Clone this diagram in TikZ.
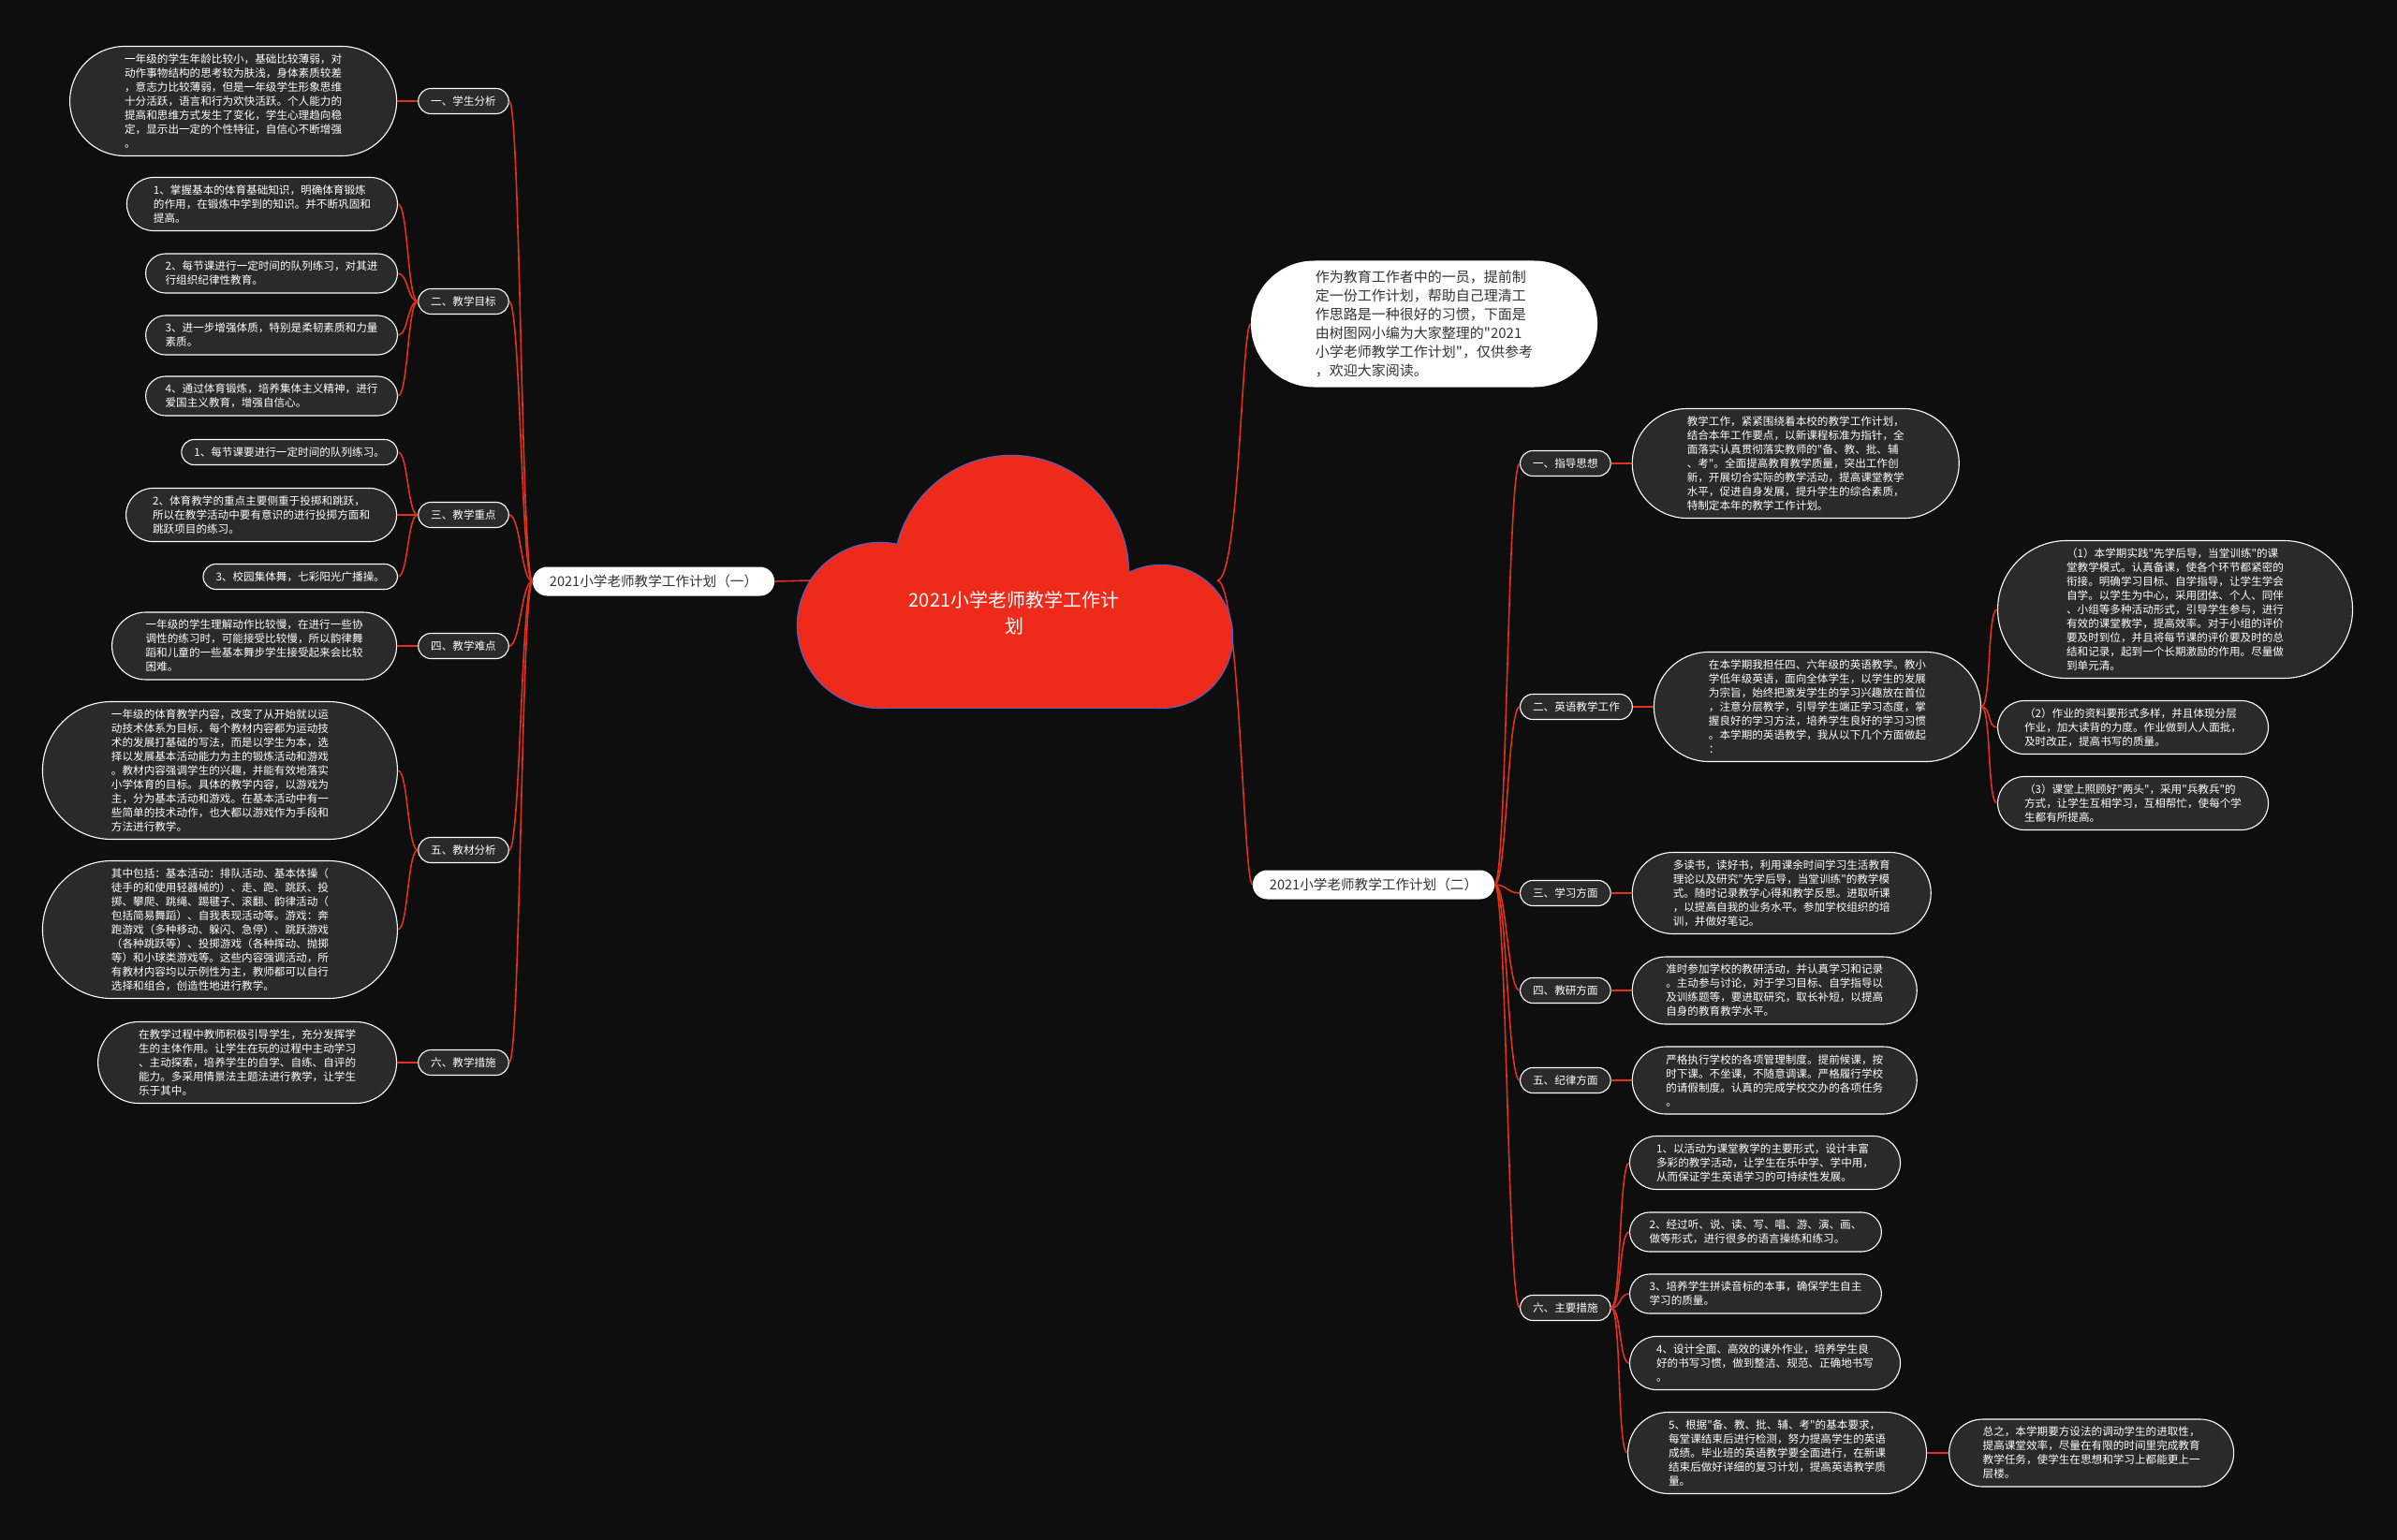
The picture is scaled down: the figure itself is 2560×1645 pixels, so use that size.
\documentclass[tikz,border=0pt]{standalone}
\usepackage{fontspec}
\newfontfamily\cjk{Noto Sans CJK SC}
\usetikzlibrary{positioning}
\definecolor{bgdark}{HTML}{0E0E0E}
\definecolor{leafgray}{HTML}{2A2A2A}
\definecolor{linkred}{HTML}{E0321E}
\definecolor{cloudred}{HTML}{EE2A1A}
\definecolor{cloudrim}{HTML}{5560C8}
\definecolor{inkdark}{HTML}{333333}
\newcommand\smallcjk{\cjk\fontsize{11.6}{15}\selectfont}
\newcommand\branchcjk{\cjk\fontsize{14.6}{18}\selectfont}
\newcommand\introcjk{\cjk\fontsize{15}{20}\selectfont}
\newcommand\rootcjk{\cjk\fontsize{20}{28}\selectfont}

\begin{document}
\begin{tikzpicture}[x=1pt, y=-1pt,
    leaf/.style={rectangle, rounded corners=7.5*#1+6, inner xsep=7.5*#1+6, inner ysep=0pt,
                 minimum height=15*#1+12, draw=white, line width=1.1pt, fill=leafgray,
                 text=white, font=\smallcjk, align=left},
    tag/.style={leaf=1, align=center},
    branch/.style={rectangle, rounded corners=15.5, inner xsep=18, inner ysep=0pt,
                   minimum height=31, fill=white, text=inkdark, font=\branchcjk},
    intro/.style={rectangle, rounded corners=67.5, inner xsep=69, inner ysep=0pt,
                  minimum height=135, fill=white, text=inkdark, font=\introcjk, align=left},
    link/.style={draw=linkred, line width=1.6pt},
    rim/.style={draw=cloudrim, line width=2.4pt}
]
\path[use as bounding box, fill=bgdark] (0,0) rectangle (2560,1645);

% Root anchors
\coordinate (rootL) at (866,620);
\coordinate (rootR) at (1300,620);

% Main branches
\node[branch] (br1) at (698,621) {2021小学老师教学工作计划（一）};
\node[branch] (br2) at (1467,945) {2021小学老师教学工作计划（二）};
\node[intro] (intro) at (1521,346)
    {作为教育工作者中的一员，提前制\\
     定一份工作计划，帮助自己理清工\\
     作思路是一种很好的习惯，下面是\\
     由树图网小编为大家整理的"2021\\
     小学老师教学工作计划"，仅供参考\\
     ，欢迎大家阅读。};

\draw[link] (br1.east) -- (rootL);
\draw[link] (rootR) .. controls +(24,0) and +(-10,0) .. (intro.west);
\draw[link] (rootR) .. controls +(24,0) and +(-10,0) .. (br2.west);

% Cloud
\draw[rim] (1080,612) circle[radius=125];
\draw[rim] (940,668) circle[radius=88];
\draw[rim] (1240,680) circle[radius=76];
\draw[rim] (940,690) rectangle (1240,756);
\fill[cloudred] (1080,612) circle[radius=125];
\fill[cloudred] (940,668) circle[radius=88];
\fill[cloudred] (1240,680) circle[radius=76];
\fill[cloudred] (940,690) rectangle (1240,756);
\node[text=white, font=\rootcjk, align=center] (root) at (1083,655)
    {2021小学老师教学工作计\\划};

% Left side - labels
\node[tag] (s1) at (495,108) {一、学生分析};
\node[tag] (s2) at (495,322) {二、教学目标};
\node[tag] (s3) at (495,550) {三、教学重点};
\node[tag] (s4) at (495,690) {四、教学难点};
\node[tag] (s5) at (495,908) {五、教材分析};
\node[tag] (s6) at (495,1135) {六、教学措施};

% Left side - leaves
\node[leaf=7, left=22pt of s1] (l1)
    {一年级的学生年龄比较小，基础比较薄弱，对\\
     动作事物结构的思考较为肤浅，身体素质较差\\
     ，意志力比较薄弱，但是一年级学生形象思维\\
     十分活跃，语言和行为欢快活跃。个人能力的\\
     提高和思维方式发生了变化，学生心理趋向稳\\
     定，显示出一定的个性特征，自信心不断增强\\
     。};
\node[leaf=3, anchor=east] (l2a) at (425,218)
    {1、掌握基本的体育基础知识，明确体育锻炼\\
     的作用，在锻炼中学到的知识。并不断巩固和\\
     提高。};
\node[leaf=2, anchor=east] (l2b) at (425,292)
    {2、每节课进行一定时间的队列练习，对其进\\
     行组织纪律性教育。};
\node[leaf=2, anchor=east] (l2c) at (425,358)
    {3、进一步增强体质，特别是柔韧素质和力量\\
     素质。};
\node[leaf=2, anchor=east] (l2d) at (425,423)
    {4、通过体育锻炼，培养集体主义精神，进行\\
     爱国主义教育，增强自信心。};
\node[leaf=1, anchor=east] (l3a) at (425,483) {1、每节课要进行一定时间的队列练习。};
\node[leaf=3, left=22pt of s3] (l3b)
    {2、体育教学的重点主要侧重于投掷和跳跃，\\
     所以在教学活动中要有意识的进行投掷方面和\\
     跳跃项目的练习。};
\node[leaf=1, anchor=east] (l3c) at (425,616) {3、校园集体舞，七彩阳光广播操。};
\node[leaf=4, left=22pt of s4] (l4)
    {一年级的学生理解动作比较慢，在进行一些协\\
     调性的练习时，可能接受比较慢，所以韵律舞\\
     蹈和儿童的一些基本舞步学生接受起来会比较\\
     困难。};
\node[leaf=9, anchor=east] (l5a) at (425,823)
    {一年级的体育教学内容，改变了从开始就以运\\
     动技术体系为目标，每个教材内容都为运动技\\
     术的发展打基础的写法，而是以学生为本，选\\
     择以发展基本活动能力为主的锻炼活动和游戏\\
     。教材内容强调学生的兴趣，并能有效地落实\\
     小学体育的目标。具体的教学内容，以游戏为\\
     主，分为基本活动和游戏。在基本活动中有一\\
     些简单的技术动作，也大都以游戏作为手段和\\
     方法进行教学。};
\node[leaf=9, anchor=east] (l5b) at (425,993)
    {其中包括：基本活动：排队活动、基本体操（\\
     徒手的和使用轻器械的）、走、跑、跳跃、投\\
     掷、攀爬、跳绳、踢毽子、滚翻、韵律活动（\\
     包括简易舞蹈）、自我表现活动等。游戏：奔\\
     跑游戏（多种移动、躲闪、急停）、跳跃游戏\\
     （各种跳跃等）、投掷游戏（各种挥动、抛掷\\
     等）和小球类游戏等。这些内容强调活动，所\\
     有教材内容均以示例性为主，教师都可以自行\\
     选择和组合，创造性地进行教学。};
\node[leaf=5, left=22pt of s6] (l6)
    {在教学过程中教师积极引导学生，充分发挥学\\
     生的主体作用。让学生在玩的过程中主动学习\\
     、主动探索，培养学生的自学、自练、自评的\\
     能力。多采用情景法主题法进行教学，让学生\\
     乐于其中。};

% Left side - connectors
\draw[link] (br1.west) .. controls +(-12,0) and +(12,0) .. (s1.east);
\draw[link] (br1.west) .. controls +(-12,0) and +(12,0) .. (s2.east);
\draw[link] (br1.west) .. controls +(-12,0) and +(12,0) .. (s3.east);
\draw[link] (br1.west) .. controls +(-12,0) and +(12,0) .. (s4.east);
\draw[link] (br1.west) .. controls +(-12,0) and +(12,0) .. (s5.east);
\draw[link] (br1.west) .. controls +(-12,0) and +(12,0) .. (s6.east);
\draw[link] (s1.west) -- (l1.east);
\draw[link] (s2.west) .. controls +(-11,0) and +(11,0) .. (l2a.east);
\draw[link] (s2.west) .. controls +(-11,0) and +(11,0) .. (l2b.east);
\draw[link] (s2.west) .. controls +(-11,0) and +(11,0) .. (l2c.east);
\draw[link] (s2.west) .. controls +(-11,0) and +(11,0) .. (l2d.east);
\draw[link] (s3.west) .. controls +(-11,0) and +(11,0) .. (l3a.east);
\draw[link] (s3.west) -- (l3b.east);
\draw[link] (s3.west) .. controls +(-11,0) and +(11,0) .. (l3c.east);
\draw[link] (s4.west) -- (l4.east);
\draw[link] (s5.west) .. controls +(-11,0) and +(11,0) .. (l5a.east);
\draw[link] (s5.west) .. controls +(-11,0) and +(11,0) .. (l5b.east);
\draw[link] (s6.west) -- (l6.east);

% Right side - labels
\node[tag, anchor=west] (t1) at (1623,495) {一、指导思想};
\node[tag, anchor=west] (t2) at (1623,755) {二、英语教学工作};
\node[tag, anchor=west] (t3) at (1623,954) {三、学习方面};
\node[tag, anchor=west] (t4) at (1623,1058) {四、教研方面};
\node[tag, anchor=west] (t5) at (1623,1154) {五、纪律方面};
\node[tag, anchor=west] (t6) at (1623,1397) {六、主要措施};

% Right side - leaves
\node[leaf=7, right=22pt of t1] (r1)
    {教学工作，紧紧围绕着本校的教学工作计划，\\
     结合本年工作要点，以新课程标准为指针，全\\
     面落实认真贯彻落实教师的"备、教、批、辅\\
     、考"。全面提高教育教学质量，突出工作创\\
     新，开展切合实际的教学活动，提高课堂教学\\
     水平，促进自身发展，提升学生的综合素质，\\
     特制定本年的教学工作计划。};
\node[leaf=7, right=22pt of t2] (r2)
    {在本学期我担任四、六年级的英语教学。教小\\
     学低年级英语，面向全体学生，以学生的发展\\
     为宗旨，始终把激发学生的学习兴趣放在首位\\
     ，注意分层教学，引导学生端正学习态度，掌\\
     握良好的学习方法，培养学生良好的学习习惯\\
     。本学期的英语教学，我从以下几个方面做起\\
     ：};
\node[leaf=9, anchor=west] (r2a) at (2133,651)
    {（1）本学期实践"先学后导，当堂训练"的课\\
     堂教学模式。认真备课，使各个环节都紧密的\\
     衔接。明确学习目标、自学指导，让学生学会\\
     自学。以学生为中心，采用团体、个人、同伴\\
     、小组等多种活动形式，引导学生参与，进行\\
     有效的课堂教学，提高效率。对于小组的评价\\
     要及时到位，并且将每节课的评价要及时的总\\
     结和记录，起到一个长期激励的作用。尽量做\\
     到单元清。};
\node[leaf=3, anchor=west] (r2b) at (2133,777)
    {（2）作业的资料要形式多样，并且体现分层\\
     作业，加大读背的力度。作业做到人人面批，\\
     及时改正，提高书写的质量。};
\node[leaf=3, anchor=west] (r2c) at (2133,858)
    {（3）课堂上照顾好"两头"，采用"兵教兵"的\\
     方式，让学生互相学习，互相帮忙，使每个学\\
     生都有所提高。};
\node[leaf=5, right=22pt of t3] (r3)
    {多读书，读好书，利用课余时间学习生活教育\\
     理论以及研究"先学后导，当堂训练"的教学模\\
     式。随时记录教学心得和教学反思。进取听课\\
     ，以提高自我的业务水平。参加学校组织的培\\
     训，并做好笔记。};
\node[leaf=4, right=22pt of t4] (r4)
    {准时参加学校的教研活动，并认真学习和记录\\
     。主动参与讨论，对于学习目标、自学指导以\\
     及训练题等，要进取研究，取长补短，以提高\\
     自身的教育教学水平。};
\node[leaf=4, right=22pt of t5] (r5)
    {严格执行学校的各项管理制度。提前候课，按\\
     时下课。不坐课，不随意调课。严格履行学校\\
     的请假制度。认真的完成学校交办的各项任务\\
     。};
\node[leaf=3, anchor=west] (r6a) at (1740,1242)
    {1、以活动为课堂教学的主要形式，设计丰富\\
     多彩的教学活动，让学生在乐中学、学中用，\\
     从而保证学生英语学习的可持续性发展。};
\node[leaf=2, anchor=west] (r6b) at (1740,1316)
    {2、经过听、说、读、写、唱、游、演、画、\\
     做等形式，进行很多的语言操练和练习。};
\node[leaf=2, anchor=west] (r6c) at (1740,1382)
    {3、培养学生拼读音标的本事，确保学生自主\\
     学习的质量。};
\node[leaf=3, anchor=west] (r6d) at (1740,1456)
    {4、设计全面、高效的课外作业，培养学生良\\
     好的书写习惯，做到整洁、规范、正确地书写\\
     。};
\node[leaf=5, anchor=west] (r6e) at (1738,1552)
    {5、根据"备、教、批、辅、考"的基本要求，\\
     每堂课结束后进行检测，努力提高学生的英语\\
     成绩。毕业班的英语教学要全面进行，在新课\\
     结束后做好详细的复习计划，提高英语教学质\\
     量。};
\node[leaf=4, right=23pt of r6e] (r6f)
    {总之，本学期要方设法的调动学生的进取性，\\
     提高课堂效率，尽量在有限的时间里完成教育\\
     教学任务，使学生在思想和学习上都能更上一\\
     层楼。};

% Right side - connectors
\draw[link] (br2.east) .. controls +(13,0) and +(-13,0) .. (t1.west);
\draw[link] (br2.east) .. controls +(13,0) and +(-13,0) .. (t2.west);
\draw[link] (br2.east) .. controls +(13,0) and +(-13,0) .. (t3.west);
\draw[link] (br2.east) .. controls +(13,0) and +(-13,0) .. (t4.west);
\draw[link] (br2.east) .. controls +(13,0) and +(-13,0) .. (t5.west);
\draw[link] (br2.east) .. controls +(13,0) and +(-13,0) .. (t6.west);
\draw[link] (t1.east) -- (r1.west);
\draw[link] (t2.east) -- (r2.west);
\draw[link] (r2.east) .. controls +(11,0) and +(-11,0) .. (r2a.west);
\draw[link] (r2.east) .. controls +(11,0) and +(-11,0) .. (r2b.west);
\draw[link] (r2.east) .. controls +(11,0) and +(-11,0) .. (r2c.west);
\draw[link] (t3.east) -- (r3.west);
\draw[link] (t4.east) -- (r4.west);
\draw[link] (t5.east) -- (r5.west);
\draw[link] (t6.east) .. controls +(11,0) and +(-11,0) .. (r6a.west);
\draw[link] (t6.east) .. controls +(11,0) and +(-11,0) .. (r6b.west);
\draw[link] (t6.east) .. controls +(11,0) and +(-11,0) .. (r6c.west);
\draw[link] (t6.east) .. controls +(11,0) and +(-11,0) .. (r6d.west);
\draw[link] (t6.east) .. controls +(11,0) and +(-11,0) .. (r6e.west);
\draw[link] (r6e.east) -- (r6f.west);
\end{tikzpicture}
\end{document}
